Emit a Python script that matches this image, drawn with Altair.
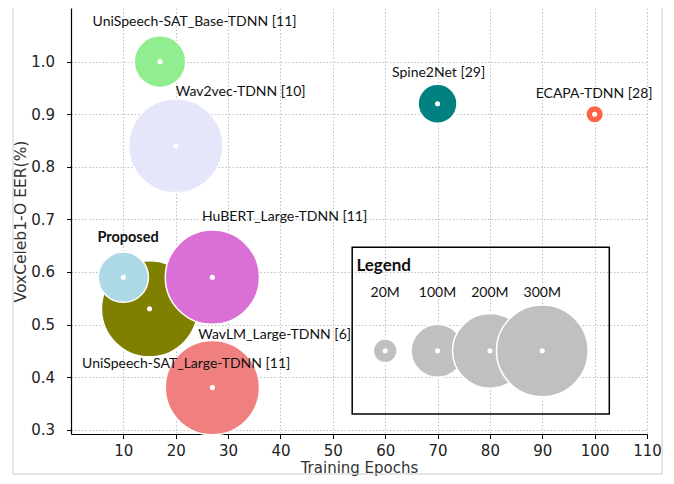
import altair as alt
import pandas as pd

# ---- data ----
models = ["Wav2vec-TDNN [10]", "UniSpeech-SAT_Base-TDNN [11]", "UniSpeech-SAT_Large-TDNN [11]",
          "Proposed", "HuBERT_Large-TDNN [11]", "WavLM_Large-TDNN [6]", "Spine2Net [29]", "ECAPA-TDNN [28]"]
epochs = [20, 17, 15, 10, 27, 27, 70, 100]
eer = [0.84, 1.00, 0.53, 0.59, 0.59, 0.38, 0.92, 0.90]
params_m = [317, 95, 330, 90, 317, 317, 54, 11]
colors = ["#E6E6FA", "#90EE90", "#808000", "#ADD8E6", "#DA70D6", "#F08080", "#008080", "#FF6347"]

# annotation labels (data coordinates)
label_text = ["Wav2vec-TDNN [10]", "UniSpeech-SAT_Base-TDNN [11]", "UniSpeech-SAT_Large-TDNN [11]",
              "HuBERT_Large-TDNN [11]", "WavLM_Large-TDNN [6]", "Spine2Net [29]", "ECAPA-TDNN [28]"]
label_x = [32.4, 23.6, 22.0, 40.8, 38.9, 70.2, 99.9]
label_y = [0.942, 1.076, 0.425, 0.705, 0.480, 0.979, 0.939]
proposed_label_x = [10.9]
proposed_label_y = [0.665]

# size legend
legend_params = [20, 100, 200, 300]
legend_text = ["20M", "100M", "200M", "300M"]
legend_x = [60, 70, 80, 90]
legend_y = [0.45, 0.45, 0.45, 0.45]
legend_label_y = [0.56, 0.56, 0.56, 0.56]
box_x = [53.7]
box_x2 = [102.8]
box_y = [0.330]
box_y2 = [0.647]

x_ticks = [10, 20, 30, 40, 50, 60, 70, 80, 90, 100, 110]
y_ticks = [0.3, 0.4, 0.5, 0.6, 0.7, 0.8, 0.9, 1.0]

df = pd.DataFrame({"model": models, "epochs": epochs, "eer": eer,
                   "params": params_m, "idx": list(range(len(models)))})
lab = pd.DataFrame({"text": label_text, "x": label_x, "y": label_y})
plab = pd.DataFrame({"text": ["Proposed"], "x": proposed_label_x, "y": proposed_label_y})
leg = pd.DataFrame({"params": legend_params, "text": legend_text, "x": legend_x,
                    "y": legend_y, "ly": legend_label_y})
box = pd.DataFrame({"x": box_x, "x2": box_x2, "y": box_y, "y2": box_y2})

xs = alt.Scale(domain=[0, 110], nice=False, zero=False)
ys = alt.Scale(domain=[0.2918, 1.102], nice=False, zero=False)
ss = alt.Scale(type="linear", domain=[0, 300], range=[0, 8400])

X = alt.X("epochs:Q", scale=xs,
          axis=alt.Axis(values=x_ticks, title="Training Epochs", labelPadding=5,
                        titlePadding=2, labelFlush=False, titleFontSize=15))
Y = alt.Y("eer:Q", scale=ys,
          axis=alt.Axis(values=y_ticks, format=".1f", title="VoxCeleb1-O EER(%)",
                        labelPadding=12, titlePadding=2, labelFlush=False,
                        titleFontSize=15.5))

bubbles = alt.Chart(df).mark_circle(opacity=1, stroke="white", strokeWidth=1.5).encode(
    x=X, y=Y,
    size=alt.Size("params:Q", scale=ss, legend=None),
    color=alt.Color("model:N", scale=alt.Scale(domain=models, range=colors), legend=None),
    order=alt.Order("idx:Q"),
)
dots = alt.Chart(df).mark_circle(opacity=1, color="white", size=26).encode(
    x="epochs:Q", y="eer:Q")

labels = alt.Chart(lab).mark_text(font="Lato", fontSize=14, color="#111").encode(
    x="x:Q", y="y:Q", text="text:N")
plabel = alt.Chart(plab).mark_text(font="Lato", fontSize=14.5, fontWeight="bold", color="#111").encode(
    x="x:Q", y="y:Q", text="text:N")

legbox = alt.Chart(box).mark_rect(fillOpacity=0, stroke="black", strokeWidth=1.5).encode(
    x="x:Q", x2="x2:Q", y="y:Q", y2="y2:Q")
legtitle = alt.Chart(pd.DataFrame({"t": ["Legend"], "x": [54.5], "y": [0.612]})).mark_text(
    font="Lato", fontSize=17, fontWeight="bold", align="left", color="#111").encode(
    x="x:Q", y="y:Q", text="t:N")
legcircles = alt.Chart(leg).mark_circle(opacity=1, color="#C0C0C0", stroke="white", strokeWidth=1.5).encode(
    x="x:Q", y="y:Q", size=alt.Size("params:Q", scale=ss, legend=None))
legdots = alt.Chart(leg).mark_circle(opacity=1, color="white", size=26).encode(x="x:Q", y="y:Q")
legtext = alt.Chart(leg).mark_text(font="Lato", fontSize=14, color="#111").encode(
    x="x:Q", y="ly:Q", text="text:N")

frame_l = alt.Chart(pd.DataFrame({"a": [0]})).mark_rule(color="#cccccc", strokeWidth=1).encode(
    x=alt.value(-58), y=alt.value(-10), y2=alt.value(466))
frame_r = alt.Chart(pd.DataFrame({"a": [0]})).mark_rule(color="#cccccc", strokeWidth=1).encode(
    x=alt.value(591), y=alt.value(-10), y2=alt.value(466))
frame_b = alt.Chart(pd.DataFrame({"a": [0]})).mark_rule(color="#cccccc", strokeWidth=1).encode(
    x=alt.value(-58), x2=alt.value(591), y=alt.value(466))

chart = alt.layer(
    bubbles, dots, labels, plabel, legbox, legtitle, legcircles, legdots, legtext,
    frame_l, frame_r, frame_b
).properties(
    width=576, height=426,
    autosize=alt.AutoSizeParams(type="none"),
    padding={"left": 63, "top": 0, "right": 19, "bottom": 42},
).configure_view(strokeWidth=0).configure_axis(
    domainColor="black", domainWidth=1.2, tickColor="black", tickSize=4.5, tickWidth=1,
    gridColor="#b0b0b0", gridDash=[1.5, 2], gridWidth=0.8,
    labelFont="DejaVu Sans", labelFontSize=15, labelColor="#222",
    titleFont="DejaVu Sans", titleFontWeight="normal", titleColor="#333",
)

chart.save("out.html", embed_options={"renderer": "svg", "actions": False})
